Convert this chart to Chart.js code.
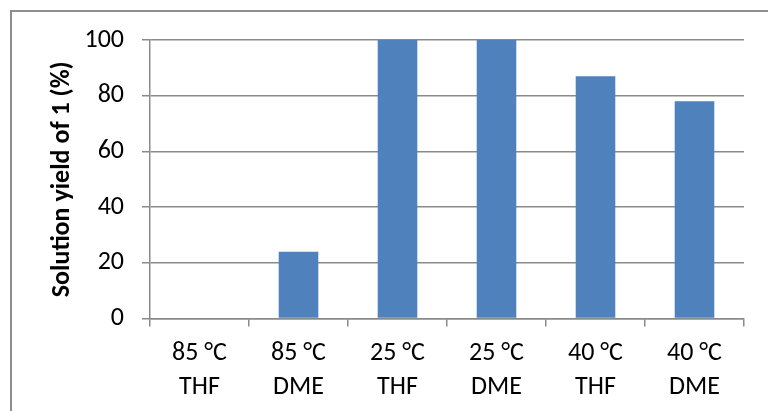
<!DOCTYPE html>
<html>
<head>
<meta charset="utf-8">
<script src="https://cdn.jsdelivr.net/npm/chart.js@4/dist/chart.umd.min.js"></script>
<style>
  html, body { margin: 0; padding: 0; background: #ffffff; }
  #wrap { position: relative; width: 768px; height: 411px; }
  canvas { display: block; }
</style>
</head>
<body>
<div id="wrap"><canvas id="chart" width="768" height="411"></canvas></div>
<script>
// Reaction conditions (temperature / solvent) on the category axis
const conditions = [
  ['85 °C', 'THF'],
  ['85 °C', 'DME'],
  ['25 °C', 'THF'],
  ['25 °C', 'DME'],
  ['40 °C', 'THF'],
  ['40 °C', 'DME']
];
// Solution yield of compound 1, in percent
const yieldPercent = [0, 24, 100, 100, 87, 78];
// Value axis range and step
const yMin = 0;
const yMax = 100;
const yStep = 20;
const yTitle = 'Solution yield of 1 (%)';

const FONT = 'Carlito, Calibri, Lato, sans-serif';
const GRID = '#8a8a8a';

// Thin frame around the whole chart object
const framePlugin = {
  id: 'frame',
  beforeDraw(chart) {
    const ctx = chart.ctx;
    ctx.save();
    ctx.fillStyle = '#ffffff';
    ctx.fillRect(0, 0, chart.width, chart.height);
    ctx.strokeStyle = '#8e8e8e';
    ctx.lineWidth = 2;
    ctx.strokeRect(11, 11, chart.width + 20, chart.height + 20);
    ctx.restore();
  }
};

new Chart(document.getElementById('chart'), {
  type: 'bar',
  data: {
    labels: conditions,
    datasets: [{
      data: yieldPercent,
      backgroundColor: '#4F81BD',
      borderWidth: 0,
      barPercentage: 0.4,
      categoryPercentage: 1.0
    }]
  },
  options: {
    responsive: false,
    animation: false,
    devicePixelRatio: 1,
    layout: { padding: { left: 0, top: 40, right: 24, bottom: 0 } },
    plugins: {
      legend: { display: false },
      tooltip: { enabled: false }
    },
    scales: {
      x: {
        grid: {
          drawOnChartArea: false,
          drawTicks: true,
          tickLength: 8,
          color: GRID,
          lineWidth: 1.5
        },
        border: { display: true, color: GRID, width: 1.5 },
        ticks: {
          color: '#000000',
          padding: 10,
          maxRotation: 0,
          autoSkip: false,
          font: { family: FONT, size: 26, lineHeight: 1.32 }
        },
        afterFit(scale) { scale.height = 92.5; }
      },
      y: {
        min: yMin,
        max: yMax,
        ticks: {
          stepSize: yStep,
          color: '#000000',
          padding: 18,
          font: { family: FONT, size: 26 }
        },
        grid: {
          color: GRID,
          lineWidth: 1.5,
          tickLength: 8,
          drawTicks: true
        },
        border: { display: true, color: GRID, width: 1.5 },
        title: {
          display: true,
          text: yTitle,
          color: '#000000',
          font: { family: FONT, size: 26, weight: 'bold' },
          padding: { top: 47, bottom: 0 }
        },
        afterFit(scale) { scale.width = 150; }
      }
    }
  },
  plugins: [framePlugin]
});
</script>
</body>
</html>
